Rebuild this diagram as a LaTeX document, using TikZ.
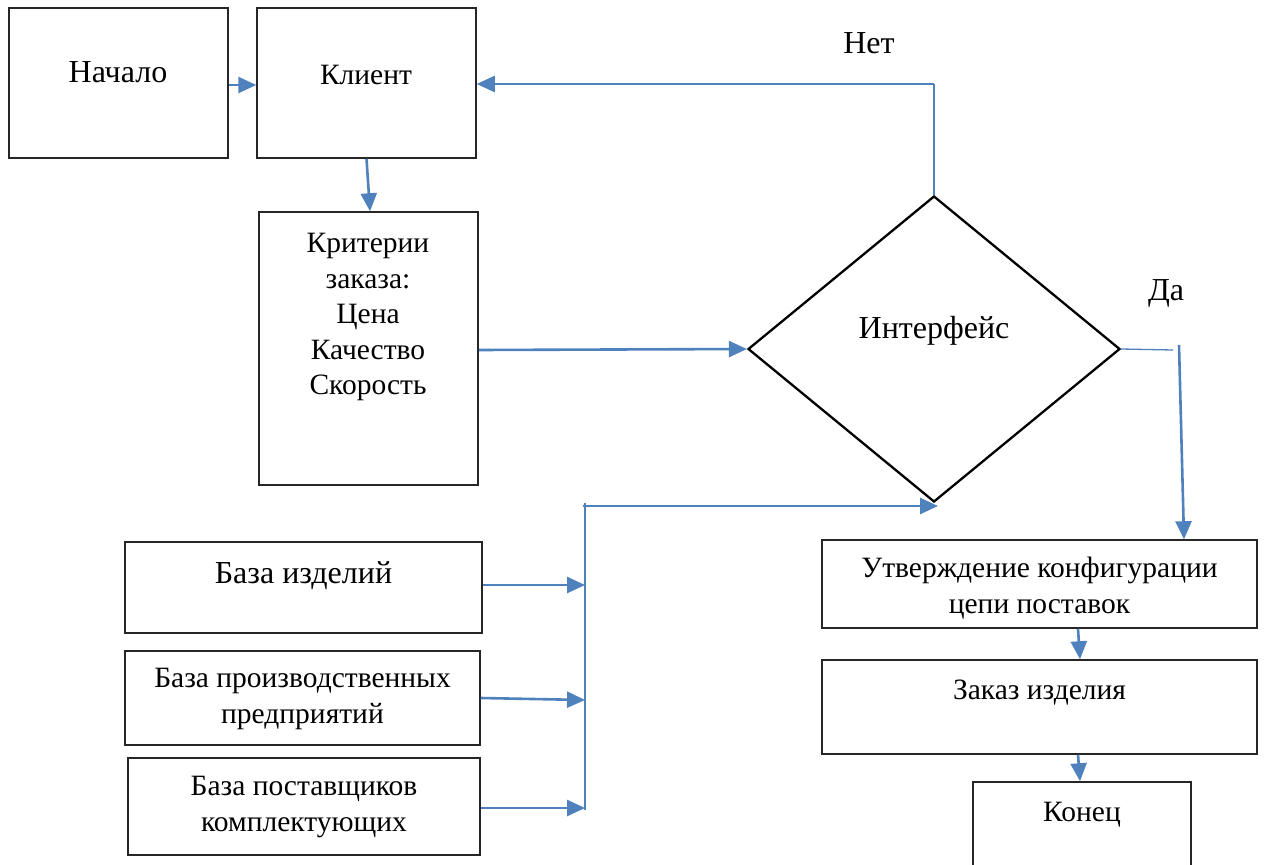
\documentclass[tikz,border=0pt]{standalone}
\usepackage{fontspec}
\setmainfont{Liberation Serif}
\usetikzlibrary{shapes.geometric,arrows.meta}
\definecolor{flowblue}{HTML}{4F81BD}
\tikzset{
  box/.style={draw=black!85, line width=1.5pt, inner sep=0pt},
  txt/.style={font=\fontsize{29.5}{35.5}\selectfont, align=center, inner sep=0pt},
  bigtxt/.style={font=\fontsize{32}{36}\selectfont, inner sep=0pt},
  flow/.style={draw=flowblue, line width=2.6pt, -{Triangle[length=18pt,width=16pt]}},
  thin/.style={draw=flowblue, line width=1.3pt}
}
\begin{document}
\begin{tikzpicture}[x=1pt,y=-1pt]
\clip (0,0) rectangle (1265,864);
\fill[white] (0,0) rectangle (1265,864);
% boxes
\node[box, minimum width=219pt, minimum height=150pt] (start) at (118.5,83) {};
\node[box, minimum width=219pt, minimum height=150pt] (client) at (366.5,83) {};
\node[box, minimum width=219pt, minimum height=273pt] (crit) at (368.5,348.5) {};
\node[box, diamond, line width=2.3pt, draw=black, minimum width=372pt, minimum height=306pt] (dia) at (934,349) {};
\node[box, minimum width=435pt, minimum height=88pt] (utv) at (1039.5,584) {};
\node[box, minimum width=435pt, minimum height=94pt] (order) at (1039.5,707) {};
\node[box, minimum width=218pt, minimum height=100pt] (fin) at (1082,832) {};
\node[box, minimum width=357pt, minimum height=91pt] (bi) at (303.5,587.5) {};
\node[box, minimum width=355pt, minimum height=94pt] (bp) at (302.5,698) {};
\node[box, minimum width=352pt, minimum height=97pt] (bs) at (304,806.5) {};
% texts
\node[bigtxt] (tstart) at (118,72) {Начало};
\node[txt] (tclient) at (366,75) {Клиент};
\node[txt, text depth=0pt] (tcrit) at (368,314) {Критерии\\заказа:\\Цена\\Качество\\Скорость};
\node[bigtxt] (tdia) at (934,331) {Интерфейс};
\node[bigtxt] (tno) at (869,43) {Нет};
\node[bigtxt] (tyes) at (1166,293) {Да};
\node[txt] (tutv) at (1039.5,588) {Утверждение конфигурации\\цепи поставок};
\node[txt] (torder) at (1039.5,693) {Заказ изделия};
\node[txt] (tfin) at (1082,815) {Конец};
\node[bigtxt] (tbi) at (303.5,576) {База изделий};
\node[txt] (tbp) at (302.5,699) {База производственных\\предприятий};
\node[txt] (tbs) at (304,807) {База поставщиков\\комплектующих};
% helper points
\coordinate (notop) at (934,84);
\coordinate (yesend) at (1173,350);
\coordinate (yesbend) at (1179,345);
\coordinate (bustop) at (585,503);
\coordinate (busbot) at (585,810);
\coordinate (busleft) at (583,506);
\coordinate (diain) at (938,506);
\coordinate (b1) at (585,585);
\coordinate (b2) at (585,700);
\coordinate (b3) at (585,808);
% connectors
\draw[flow] (start.east |- 0,85) -- (client.west |- 0,85);
\draw[flow] (client.south) -- ([xshift=1.5pt]crit.north);
\draw[flow] (crit.east |- 0,350) -- (dia.west);
\draw[thin] (dia.north) -- (notop);
\draw[flow] (notop) -- (client.east |- notop);
\draw[thin] (dia.east) -- (yesend);
\draw[flow] (yesbend) -- ([xshift=144.5pt]utv.north);
\draw[flow] ([xshift=38.5pt]utv.south) -- ([xshift=40.5pt]order.north);
\draw[flow] ([xshift=-4pt]order.south -| fin.north) -- ([xshift=-2pt]fin.north);
\draw[thin] (bustop) -- (busbot);
\draw[flow] (busleft) -- (diain);
\draw[flow] (bi.east |- b1) -- (b1);
\draw[flow] (bp.east |- 0,698) -- (b2);
\draw[flow] (bs.east |- b3) -- (b3);
\end{tikzpicture}
\end{document}
